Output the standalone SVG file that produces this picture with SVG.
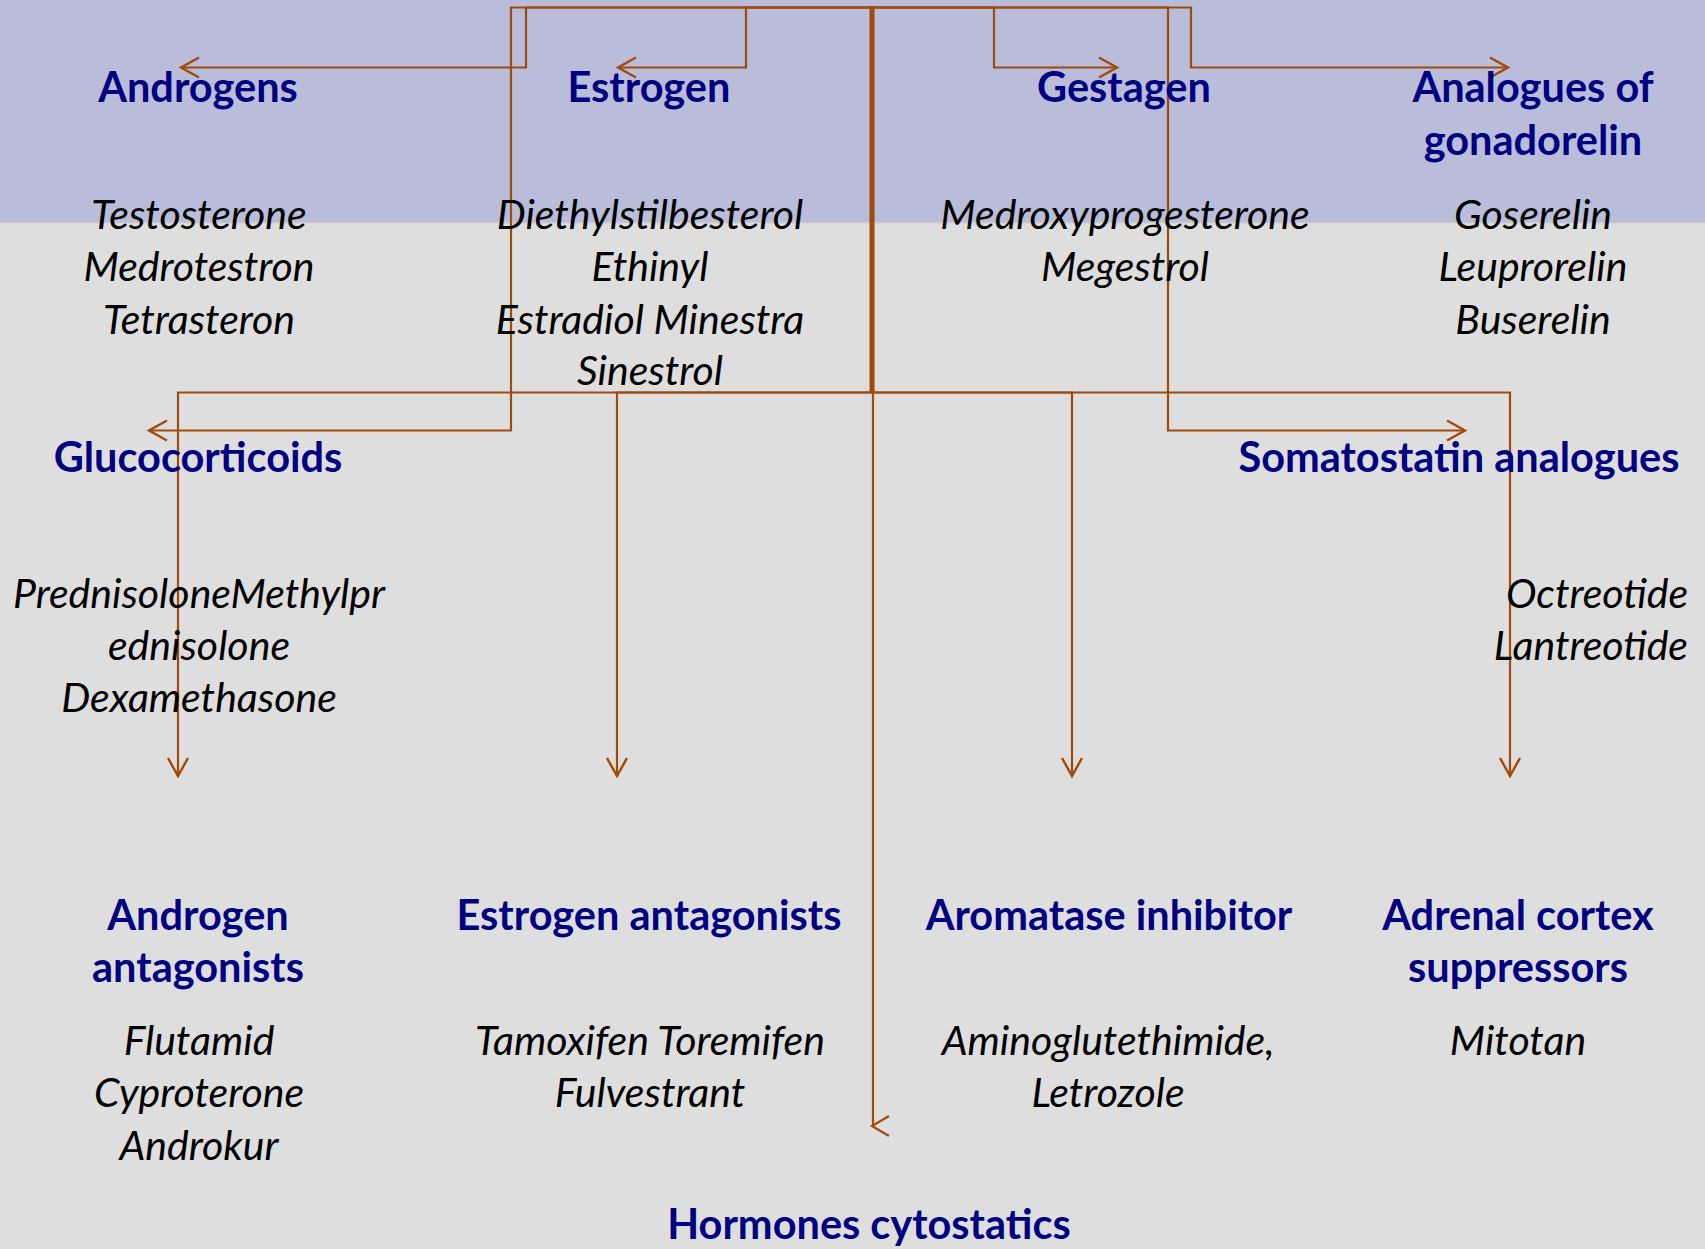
<svg xmlns="http://www.w3.org/2000/svg" width="1705" height="1249" viewBox="0 0 1705 1249">
<defs>
<style>
.h{font-family:Lato,"Liberation Sans",sans-serif;font-weight:bold;font-size:41.5px;fill:#000080;text-anchor:middle}
.b{font-family:Lato,"Liberation Sans",sans-serif;font-style:italic;font-size:41px;fill:#000000;text-anchor:middle}
.c{fill:none;stroke:#A04A0C;stroke-width:2.2}
.thick{fill:none;stroke:#A04A0C;stroke-width:5}
</style>
<marker id="arr" markerUnits="userSpaceOnUse" viewBox="-20 -12 22 24" refX="0" refY="0" markerWidth="22" markerHeight="24" orient="auto" overflow="visible">
<path d="M-18,-10 L0,0 L-18,10" fill="none" stroke="#A04A0C" stroke-width="2.4"/>
</marker>
</defs>
<rect x="0" y="0" width="1705" height="1249" fill="#DEDEDE"/>
<rect x="0" y="0" width="1705" height="222" fill="#B9BDD9"/>
<line x1="0" y1="222.5" x2="1705" y2="222.5" stroke="#C8C8CC" stroke-width="1.5"/>

<g id="connectors">
<path class="c" d="M871,7.5 H526 V67.5 H181" marker-end="url(#arr)"/>
<path class="c" d="M871,7.5 H746 V67.5 H618" marker-end="url(#arr)"/>
<path class="c" d="M871,7.5 H994 V67.5 H1117" marker-end="url(#arr)"/>
<path class="c" d="M871,7.5 H1191 V67.5 H1508" marker-end="url(#arr)"/>
<path class="c" d="M871,7.5 H511 V430.5 H149" marker-end="url(#arr)"/>
<path class="c" d="M871,7.5 H1168 V430.5 H1465" marker-end="url(#arr)"/>
<path class="c" d="M871,392.5 H178 V776" marker-end="url(#arr)"/>
<path class="c" d="M871,392.5 H617 V776" marker-end="url(#arr)"/>
<path class="c" d="M871,392.5 H1072 V776" marker-end="url(#arr)"/>
<path class="c" d="M871,392.5 H1510 V776" marker-end="url(#arr)"/>
<path class="thick" d="M872,6 V392.5"/>
<path class="c" d="M873,7.5 V1126"/>
<path class="c" d="M889,1116 L872,1126 L889,1136" stroke-width="2.4"/>
</g>

<g transform="translate(0,1.5)">
<g id="androgens">
<text class="h" x="198" y="100">Androgens</text>
<text class="b" x="199" y="227">Testosterone</text>
<text class="b" x="199" y="279">Medrotestron</text>
<text class="b" x="199" y="332">Tetrasteron</text>
</g>
<g id="estrogen">
<text class="h" x="649" y="100">Estrogen</text>
<text class="b" x="650" y="227">Diethylstilbesterol</text>
<text class="b" x="650" y="279">Ethinyl</text>
<text class="b" x="650" y="332">Estradiol Minestra</text>
<text class="b" x="650" y="383">Sinestrol</text>
</g>
<g id="gestagen">
<text class="h" x="1124" y="100">Gestagen</text>
<text class="b" x="1125" y="227">Medroxyprogesterone</text>
<text class="b" x="1125" y="279">Megestrol</text>
</g>
<g id="gonadorelin">
<text class="h" x="1533" y="100">Analogues of</text>
<text class="h" x="1533" y="153">gonadorelin</text>
<text class="b" x="1533" y="227">Goserelin</text>
<text class="b" x="1533" y="279">Leuprorelin</text>
<text class="b" x="1533" y="332">Buserelin</text>
</g>
<g id="glucocorticoids">
<text class="h" x="198" y="470">Glucocorticoids</text>
<text class="b" x="199" y="606">PrednisoloneMethylpr</text>
<text class="b" x="199" y="658">ednisolone</text>
<text class="b" x="199" y="710">Dexamethasone</text>
</g>
<g id="somatostatin">
<text class="h" x="1459" y="470">Somatostatin analogues</text>
<text class="b" x="1688" y="606" style="text-anchor:end">Octreotide</text>
<text class="b" x="1688" y="658" style="text-anchor:end">Lantreotide</text>
</g>
<g id="androgen-antagonists">
<text class="h" x="198" y="928">Androgen</text>
<text class="h" x="198" y="980">antagonists</text>
<text class="b" x="199" y="1053">Flutamid</text>
<text class="b" x="199" y="1105">Cyproterone</text>
<text class="b" x="199" y="1158">Androkur</text>
</g>
<g id="estrogen-antagonists">
<text class="h" x="649" y="928">Estrogen antagonists</text>
<text class="b" x="650" y="1053">Tamoxifen Toremifen</text>
<text class="b" x="650" y="1105">Fulvestrant</text>
</g>
<g id="aromatase">
<text class="h" x="1109" y="928">Aromatase inhibitor</text>
<text class="b" x="1108" y="1053">Aminoglutethimide,</text>
<text class="b" x="1108" y="1105">Letrozole</text>
</g>
<g id="adrenal">
<text class="h" x="1518" y="928">Adrenal cortex</text>
<text class="h" x="1518" y="980">suppressors</text>
<text class="b" x="1518" y="1053">Mitotan</text>
</g>
<g id="hormones-cytostatics">
<text class="h" x="869" y="1237.5">Hormones cytostatics</text>
</g>
</g>
</svg>
